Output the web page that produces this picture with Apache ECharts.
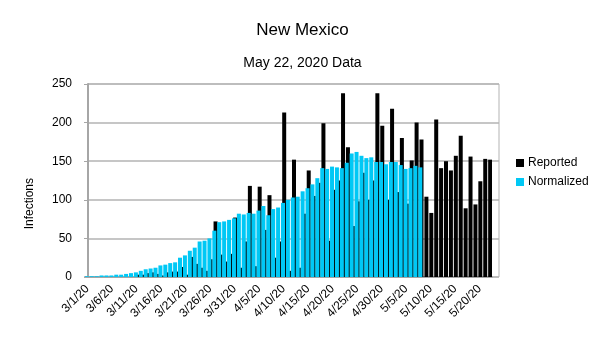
<!DOCTYPE html>
<html><head><meta charset="utf-8">
<script src="https://cdn.jsdelivr.net/npm/echarts@6/dist/echarts.min.js"></script>
<style>html,body{margin:0;padding:0;background:#fff}#c{width:605px;height:340px}</style>
</head><body><div id="c"></div>
<script>
const dates = [
'3/1/20','3/2/20','3/3/20','3/4/20','3/5/20','3/6/20','3/7/20','3/8/20','3/9/20','3/10/20',
'3/11/20','3/12/20','3/13/20','3/14/20','3/15/20','3/16/20','3/17/20','3/18/20','3/19/20','3/20/20',
'3/21/20','3/22/20','3/23/20','3/24/20','3/25/20','3/26/20','3/27/20','3/28/20','3/29/20','3/30/20','3/31/20',
'4/1/20','4/2/20','4/3/20','4/4/20','4/5/20','4/6/20','4/7/20','4/8/20','4/9/20','4/10/20',
'4/11/20','4/12/20','4/13/20','4/14/20','4/15/20','4/16/20','4/17/20','4/18/20','4/19/20','4/20/20',
'4/21/20','4/22/20','4/23/20','4/24/20','4/25/20','4/26/20','4/27/20','4/28/20','4/29/20','4/30/20',
'5/1/20','5/2/20','5/3/20','5/4/20','5/5/20','5/6/20','5/7/20','5/8/20','5/9/20','5/10/20',
'5/11/20','5/12/20','5/13/20','5/14/20','5/15/20','5/16/20','5/17/20','5/18/20','5/19/20','5/20/20',
'5/21/20','5/22/20'];

const reported = [
0,0,0,0,0,0,0,0,0,0,
3,3,5,6,4,2,6,7,7,13,
3,26,17,12,8,23,72,29,20,30,77,
12,46,118,14,117,61,106,25,46,213,
8,152,12,82,138,105,122,199,47,113,
125,238,168,66,98,135,100,125,238,196,
100,218,110,180,95,151,200,178,104,83,
204,141,150,138,157,183,89,156,94,124,
153,152];

const normalized = [
1,1,1,2,2,2,3,3,4,5,
6,8,10,11,12,15,16,18,19,25,
28,34,38,46,47,50,60,71,72,74,76,
82,81,83,82,86,92,80,88,90,96,
100,103,104,111,115,120,128,141,140,143,
142,141,148,160,162,157,154,155,149,149,
146,149,149,145,140,141,144,142,null,null,
null,null,null,null,null,null,null,null,null,null,
null,null];

const yTicks = [0,50,100,150,200,250];

const chart = echarts.init(document.getElementById('c'), null, {renderer:'canvas'});
const FONT = 'Liberation Sans';
chart.setOption({
  animation:false,
  backgroundColor:'#fff',
  textStyle:{fontFamily:FONT},
  title:[
    {text:'New Mexico', left:'center', top:17, textStyle:{fontFamily:FONT,fontSize:17,fontWeight:'normal',color:'#000'}},
    {text:'May 22, 2020 Data', left:'center', top:51, textStyle:{fontFamily:FONT,fontSize:14,fontWeight:'normal',color:'#000'}}
  ],
  legend:{
    orient:'vertical', left:511, top:152, itemWidth:8, itemHeight:8, itemGap:7,
    icon:'rect',
    data:['Reported','Normalized'],
    textStyle:{fontFamily:FONT,fontSize:12,color:'#000',padding:[0,0,0,-1]}
  },
  graphic:[
    {type:'text', left:24, top:178, rotation:Math.PI/2, style:{text:'Infections', font:'12px "Liberation Sans"', fill:'#000'}}
  ],
  grid:[
    {left:85, right:113, top:84, bottom:63},
    {left:88, right:106, top:84, bottom:63, show:true, borderColor:'#b3b3b3', borderWidth:1}
  ],
  xAxis:[
    {type:'category', gridIndex:0, data:dates,
     axisLine:{show:true, lineStyle:{color:'#a6a6a6', width:2}},
     axisTick:{show:false},
     axisLabel:{interval:4, rotate:45, fontSize:12, color:'#000', fontFamily:FONT, margin:10}},
    {type:'value', gridIndex:1, show:false, min:0, max:1}
  ],
  yAxis:[
    {type:'value', gridIndex:0, min:0, max:250, interval:50, show:false},
    {type:'value', gridIndex:1, min:0, max:250, interval:50,
     axisLine:{show:true, lineStyle:{color:'#a6a6a6', width:2}},
     axisTick:{show:true, length:4, lineStyle:{color:'#a6a6a6'}},
     axisLabel:{fontSize:12, color:'#000', fontFamily:FONT, margin:16},
     splitLine:{show:true, lineStyle:{color:'#b3b3b3', width:1.5}}}
  ],
  series:[
    {name:'Normalized', type:'bar', xAxisIndex:0, yAxisIndex:0, data:normalized, barWidth:4, barGap:'-70%', z:3,
     itemStyle:{color:'#00c8f5'}},
    {name:'Reported', type:'bar', xAxisIndex:0, yAxisIndex:0, data:reported, barWidth:4, z:2,
     itemStyle:{color:'#000'}}
  ]
});
</script></body></html>
